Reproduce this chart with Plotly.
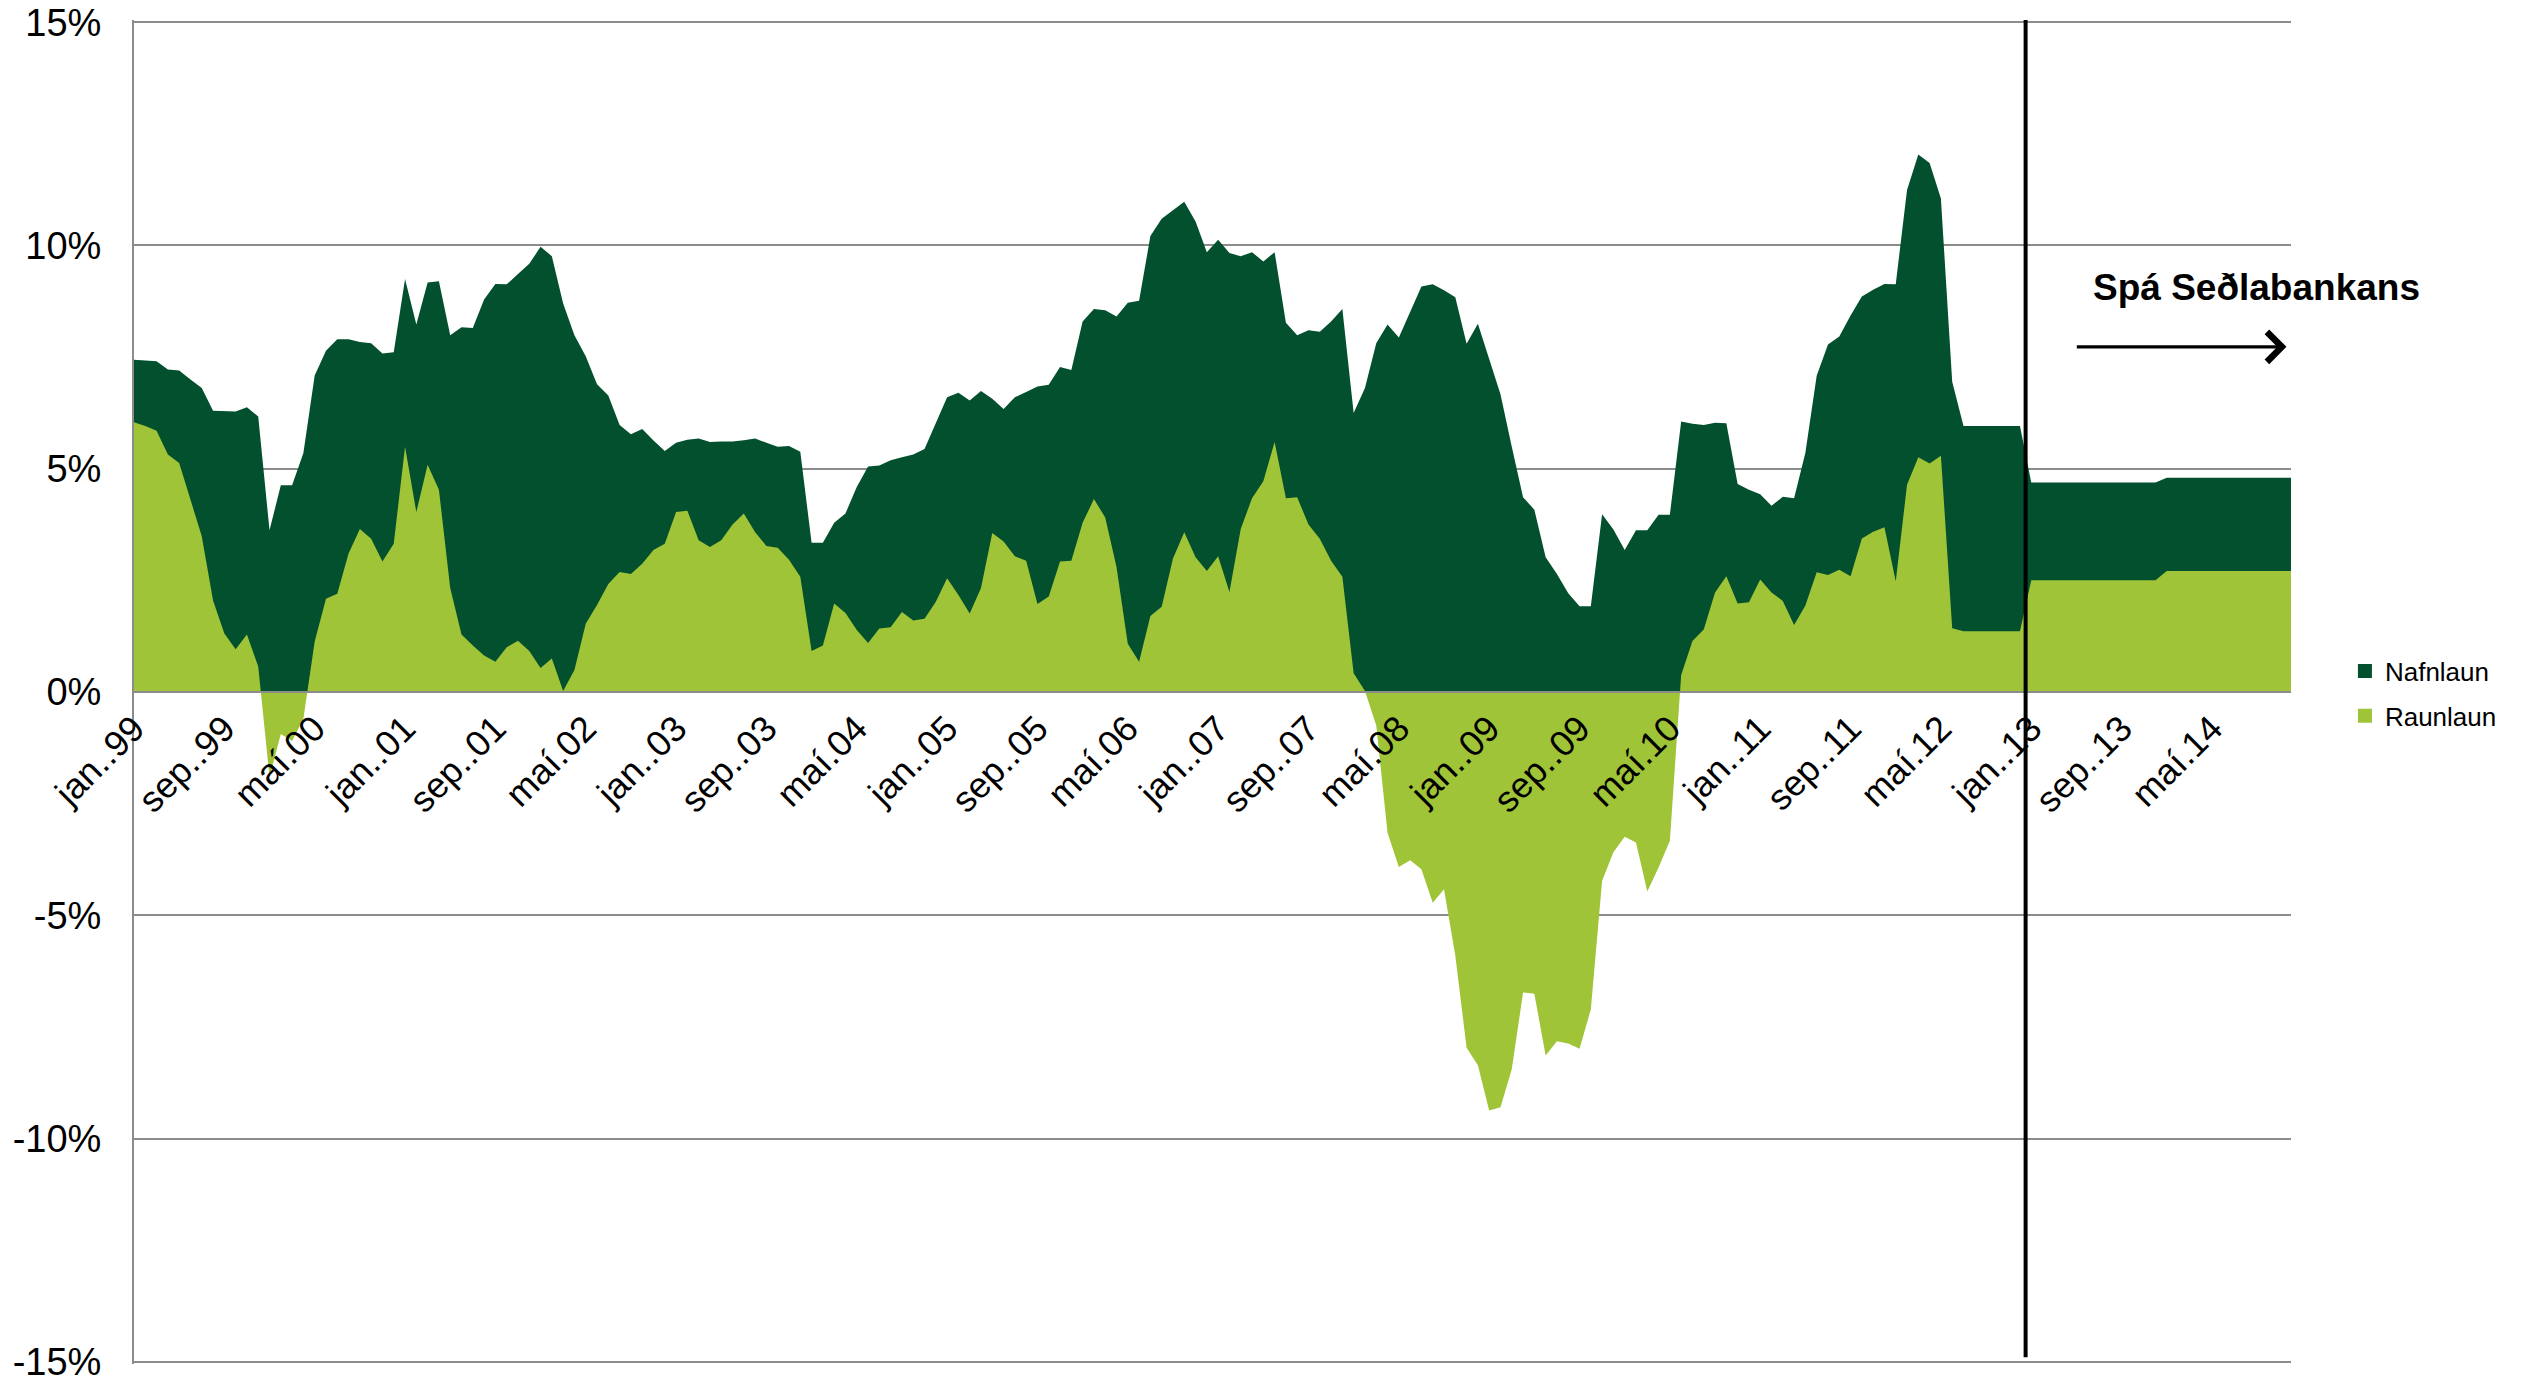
import plotly.graph_objects as go

# ---------------- data (monthly, jan 1999 - dec 2014) ----------------
NAFNLAUN = [
    7.44, 7.43, 7.41, 7.22, 7.20, 7.00, 6.81, 6.30, 6.29, 6.28, 6.38, 6.17,
    3.62, 4.63, 4.63, 5.35, 7.09, 7.64, 7.90, 7.90, 7.84, 7.81, 7.58, 7.61,
    9.25, 8.23, 9.17, 9.20, 7.99, 8.17, 8.15, 8.79, 9.14, 9.13, 9.36, 9.59,
    9.97, 9.76, 8.70, 7.99, 7.52, 6.89, 6.64, 5.98, 5.77, 5.89, 5.63, 5.40,
    5.58, 5.65, 5.68, 5.60, 5.61, 5.61, 5.64, 5.68, 5.58, 5.49, 5.51, 5.38,
    3.34, 3.34, 3.79, 4.00, 4.59, 5.05, 5.07, 5.19, 5.26, 5.32, 5.44, 6.01,
    6.60, 6.70, 6.53, 6.74, 6.57, 6.34, 6.60, 6.72, 6.84, 6.88, 7.28, 7.21,
    8.30, 8.58, 8.55, 8.41, 8.72, 8.76, 10.21, 10.60, 10.79, 10.98, 10.54, 9.85,
    10.13, 9.83, 9.76, 9.85, 9.64, 9.85, 8.27, 7.99, 8.10, 8.07, 8.30, 8.58,
    6.25, 6.81, 7.81, 8.23, 7.94, 8.51, 9.08, 9.13, 9.00, 8.84, 7.80, 8.25,
    7.47, 6.67, 5.49, 4.36, 4.08, 3.02, 2.64, 2.21, 1.92, 1.92, 3.98, 3.64,
    3.18, 3.62, 3.62, 3.97, 3.97, 6.06, 6.01, 5.98, 6.03, 6.02, 4.66, 4.53,
    4.43, 4.17, 4.37, 4.34, 5.36, 7.08, 7.78, 7.96, 8.43, 8.86, 9.01, 9.14,
    9.13, 11.24, 12.04, 11.85, 11.05, 6.95, 5.96, 5.96, 5.96, 5.96, 5.96, 5.96,
    4.69, 4.69, 4.69, 4.69, 4.69, 4.69, 4.69, 4.69, 4.69, 4.69, 4.69, 4.69,
    4.80, 4.80, 4.80, 4.80, 4.80, 4.80, 4.80, 4.80, 4.80, 4.80, 4.80, 4.80,
]

RAUNLAUN = [
    6.04, 5.96, 5.85, 5.32, 5.13, 4.31, 3.49, 2.05, 1.31, 0.96, 1.29, 0.57,
    -1.90, -0.94, -1.10, -0.60, 1.13, 2.09, 2.20, 3.10, 3.65, 3.43, 2.92, 3.32,
    5.49, 4.03, 5.09, 4.53, 2.33, 1.29, 1.04, 0.82, 0.68, 1.00, 1.15, 0.92,
    0.54, 0.75, 0.02, 0.49, 1.53, 1.95, 2.42, 2.69, 2.64, 2.87, 3.18, 3.32,
    4.03, 4.06, 3.40, 3.25, 3.40, 3.75, 4.00, 3.58, 3.27, 3.23, 2.96, 2.58,
    0.92, 1.04, 1.98, 1.77, 1.39, 1.10, 1.42, 1.45, 1.79, 1.60, 1.64, 2.02,
    2.55, 2.17, 1.76, 2.33, 3.56, 3.37, 3.04, 2.94, 1.97, 2.14, 2.92, 2.94,
    3.79, 4.32, 3.91, 2.80, 1.08, 0.68, 1.70, 1.91, 2.99, 3.58, 3.02, 2.71,
    3.04, 2.24, 3.65, 4.34, 4.72, 5.60, 4.34, 4.36, 3.75, 3.43, 2.94, 2.58,
    0.42, 0.02, -0.75, -3.15, -3.92, -3.77, -3.97, -4.72, -4.42, -5.90, -7.97, -8.36,
    -9.37, -9.30, -8.45, -6.73, -6.76, -8.14, -7.82, -7.87, -7.99, -7.11, -4.23, -3.59,
    -3.24, -3.37, -4.47, -3.93, -3.33, 0.38, 1.14, 1.40, 2.23, 2.59, 1.98, 2.01,
    2.52, 2.23, 2.04, 1.50, 1.94, 2.68, 2.62, 2.74, 2.59, 3.44, 3.59, 3.69,
    2.48, 4.64, 5.26, 5.12, 5.29, 1.43, 1.36, 1.36, 1.36, 1.36, 1.36, 1.36,
    2.50, 2.50, 2.50, 2.50, 2.50, 2.50, 2.50, 2.50, 2.50, 2.50, 2.50, 2.50,
    2.71, 2.71, 2.71, 2.71, 2.71, 2.71, 2.71, 2.71, 2.71, 2.71, 2.71, 2.71,
]

TICK_LABELS = [
    "jan..99", "sep..99", "maí.00", "jan..01", "sep..01", "maí.02",
    "jan..03", "sep..03", "maí.04", "jan..05", "sep..05", "maí.06",
    "jan..07", "sep..07", "maí.08", "jan..09", "sep..09", "maí.10",
    "jan..11", "sep..11", "maí.12", "jan..13", "sep..13", "maí.14",
]
TICK_STEP = 8
Y_TICKS = [-15, -10, -5, 0, 5, 10, 15]
Y_TICK_LABELS = ["-15%", "-10%", "-5%", "0%", "5%", "10%", "15%"]
SERIES_NAMES = ["Nafnlaun", "Raunlaun"]
FORECAST_START = 167.5   # between dec.12 and jan.13
ANNOTATION_TEXT = "Spá Seðlabankans"

DARK = "#02502E"
LIGHT = "#A0C437"
GRID = "#8C8C8C"
FONT = "Liberation Sans, Arial, sans-serif"

Y_PAD = 0.05
months = list(range(len(NAFNLAUN)))

fig = go.Figure()
fig.add_trace(go.Scatter(x=months, y=NAFNLAUN, mode="lines", fill="tozeroy",
                         line=dict(width=0, color=DARK), fillcolor=DARK,
                         showlegend=False, hoverinfo="skip"))
fig.add_trace(go.Scatter(x=months, y=RAUNLAUN, mode="lines", fill="tozeroy",
                         line=dict(width=0, color=LIGHT), fillcolor=LIGHT,
                         showlegend=False, hoverinfo="skip"))
# legend entries (square markers)
for name, col in zip(SERIES_NAMES, [DARK, LIGHT]):
    fig.add_trace(go.Scatter(x=[None], y=[None], mode="markers", name=name,
                             legendgroup=name,
                             marker=dict(symbol="square", size=14, color=col)))

fig.add_shape(type="line", xref="x", yref="y", x0=FORECAST_START, x1=FORECAST_START,
              y0=-14.9, y1=15.05, line=dict(color="black", width=4), layer="above")

fig.add_annotation(x=173.3, y=9.07, xref="x", yref="y", text="<b>" + ANNOTATION_TEXT + "</b>",
                   showarrow=False, xanchor="left", yanchor="middle",
                   font=dict(family=FONT, size=37, color="black"))
fig.add_annotation(x=190.6, y=7.73, ax=171.9, ay=7.73, xref="x", yref="y",
                   axref="x", ayref="y", text="", showarrow=True,
                   arrowhead=4, arrowsize=1.8, arrowwidth=3.2, arrowcolor="black")

fig.update_layout(
    width=2528, height=1380,
    margin=dict(l=134, r=237, t=20, b=16, autoexpand=False),
    paper_bgcolor="white", plot_bgcolor="white",
    font=dict(family=FONT, color="black"),
    xaxis=dict(range=[0, len(NAFNLAUN) - 1],
               tickvals=[i * TICK_STEP for i in range(len(TICK_LABELS))],
               ticktext=TICK_LABELS, tickangle=-45,
               anchor="free", position=0.5, automargin=False,
               showgrid=False, zeroline=False, showline=True,
               linecolor=GRID, linewidth=2, ticks="",
               tickfont=dict(family=FONT, size=36, color="black")),
    yaxis=dict(range=[-15 - Y_PAD, 15 + Y_PAD], tickvals=Y_TICKS, ticktext=Y_TICK_LABELS,
               showgrid=True, gridcolor=GRID, gridwidth=1.5, automargin=False,
               zeroline=False, showline=True, linecolor=GRID, linewidth=2,
               ticks="", ticklabelstandoff=23, ticklabeloverflow="allow",
               tickfont=dict(family=FONT, size=38, color="black")),
    legend=dict(x=1.025, y=0.533, xanchor="left", yanchor="top",
                font=dict(family=FONT, size=26, color="black"),
                bgcolor="rgba(0,0,0,0)", tracegroupgap=8),
)

fig.write_html("out.html", config={"displayModeBar": False},
               post_script="document.body.style.margin='0';")
